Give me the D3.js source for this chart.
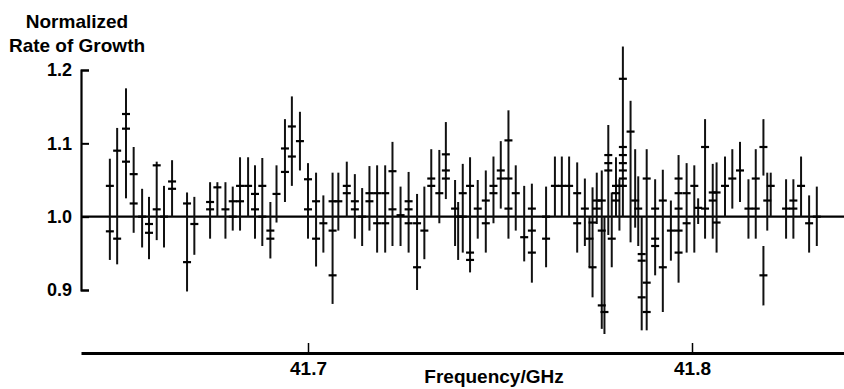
<!DOCTYPE html>
<html><head><meta charset="utf-8">
<script src="https://cdn.jsdelivr.net/npm/d3@7"></script>
<style>body{margin:0;background:#fff}svg{display:block}</style>
</head><body>
<svg id="c" width="844" height="389"></svg>
<script>
// Frequencies (GHz) of each measured point
const freq = [41.6484,41.6503,41.6526,41.6546,41.6568,41.6586,41.6606,41.6625,41.6646,41.6685,41.6704,
41.6745,41.6764,41.6785,41.6804,41.6823,41.6844,41.6862,41.6881,41.6902,41.6918,41.6940,41.6958,41.6979,
41.7000,41.7021,41.7040,41.7064,41.7079,41.7101,41.7122,41.7141,41.7160,41.7180,41.7201,41.7220,41.7241,
41.7262,41.7284,41.7303,41.7321,41.7342,41.7359,41.7383,41.7391,41.7403,41.7422,41.7442,41.7463,41.7483,
41.7502,41.7522,41.7541,41.7563,41.7583,41.7620,41.7643,41.7661,41.7680,41.7701,41.7721,41.7733,41.7741,
41.7752,41.7765,41.7772,41.7782,41.7791,41.7802,41.7811,41.7820,41.7840,41.7852,41.7860,41.7869,41.7882,
41.7904,41.7924,41.7945,41.7965,41.7986,41.8006,41.8016,41.8034,41.8054,41.8064,41.8086,41.8105,41.8125,
41.8147,41.8166,41.8186,41.8186,41.8196,41.8205,41.8245,41.8264,41.8284,41.8305,41.8325];
// Lower end of each error bar
const errLow = [0.941,0.935,1.025,0.978,0.958,0.942,0.968,0.958,1.000,0.898,0.948,
0.970,1.000,0.970,0.981,0.981,1.000,0.970,0.960,0.943,0.992,1.020,1.042,1.063,
0.970,0.932,0.951,0.881,0.981,1.000,0.970,0.960,0.981,0.951,0.951,0.960,0.960,
0.951,0.900,0.942,1.001,0.991,1.024,0.960,0.941,0.951,0.924,0.970,0.951,0.991,
1.011,0.970,0.981,0.939,0.910,0.931,1.000,1.000,1.000,0.951,0.960,0.931,0.890,
0.990,0.847,0.840,0.975,0.931,1.000,0.981,1.000,0.965,0.985,0.960,0.845,0.845,
0.920,0.870,0.940,0.910,0.951,0.951,0.990,0.970,0.970,0.951,1.000,1.011,1.020,
0.970,0.970,1.056,0.879,0.981,1.000,0.970,0.970,1.000,0.951,0.960];
// Upper end of each error bar
const errHigh = [1.079,1.121,1.175,1.095,1.038,1.027,1.075,1.042,1.077,1.033,1.027,
1.047,1.047,1.047,1.041,1.081,1.081,1.070,1.080,1.020,1.070,1.133,1.164,1.143,
1.073,1.060,1.029,1.060,1.060,1.075,1.058,1.039,1.069,1.070,1.070,1.102,1.041,
1.061,1.031,1.041,1.092,1.091,1.129,1.050,1.020,1.072,1.081,1.050,1.063,1.082,
1.103,1.145,1.070,1.042,1.045,1.041,1.082,1.082,1.082,1.074,1.052,1.000,1.040,
1.060,1.063,1.000,1.125,1.033,1.081,1.051,1.232,1.158,1.092,1.055,1.000,1.092,
1.051,1.064,1.022,1.084,1.073,1.070,1.025,1.133,1.072,1.074,1.082,1.092,1.102,
1.051,1.092,1.133,0.960,1.060,1.060,1.051,1.051,1.082,1.029,1.041];
// Normalized rate of growth readings marked on each bar
const marks = [[1.042,0.980],[1.090,0.970],[1.140,1.120,1.075],[1.058,1.018],[1.000],[0.990,0.978],[1.070,1.010],[1.000],[1.048,1.038],[1.018,0.938],[0.990],
[1.020,1.010],[1.040],[1.010],[1.021,1.000],[1.042,1.021],[1.042],[1.031,1.010],[1.042,1.000],[0.981,0.970],[1.031],[1.093,1.061],[1.123,1.082],[1.103],
[1.051,1.010],[1.021,0.970],[0.991],[1.021,0.981,0.920],[1.021],[1.042,1.032],[1.021,1.010],[1.000],[1.032,1.021],[1.032,0.991],[1.032,0.991],[1.062,1.010],[1.002],
[1.021,1.010,0.991],[0.991,0.931],[0.981],[1.052,1.042],[1.032],[1.085,1.063,1.052],[1.011],[1.000],[1.032,1.000],[1.042,0.951,0.941],[1.011],[1.022,0.991],[1.042,1.032],
[1.063,1.052],[1.104,1.052,1.011],[1.032],[0.972],[1.011,0.981,0.951],[1.000,0.970],[1.042],[1.042],[1.042],[1.032,0.991],[1.011],[0.970],[0.992,0.931],
[1.022,1.011],[1.022,0.981,0.879],[0.870],[1.084,1.073,1.063],[0.970],[1.042,1.032,1.022],[1.042],[1.188,1.095,1.084,1.073,1.063,1.052,1.042],[1.116],[1.022],[1.011],[0.949,0.940,0.890],[1.052,0.910,0.870],
[1.011,0.970,0.960],[1.022,0.931],[0.981],[1.052,1.032,1.011,0.981,0.951],[1.032,0.991],[1.042],[1.012],[1.095,1.011],[1.033,1.022],[1.033,0.992],[1.042],[1.052],[1.063],
[1.011],[1.052,1.011],[1.095],[0.920],[1.022],[1.042],[1.011],[1.022,1.011],[1.042],[0.991],[1.000]];
const yTicks = [0.9, 1.0, 1.1, 1.2];
const xTicks = [41.7, 41.8];
const xDomain = [41.640885, 41.839583];
const yDomain = [0.9, 1.2];
const baseline = 1.0;

const svg = d3.select("#c");
const font = "'Liberation Sans', Arial, Helvetica, sans-serif";
const x = d3.scaleLinear().domain(xDomain).range([81, 844]);
const y = d3.scaleLinear().domain(yDomain).range([290, 70]);

// Y axis (bracket with inward ticks)
const ya = svg.append("g").attr("transform", "translate(81,0)")
  .call(d3.axisLeft(y).tickValues(yTicks).tickFormat(d3.format(".1f"))
        .tickSize(-8).tickSizeOuter(-8).tickPadding(9));
ya.select(".domain").attr("stroke", "#000").attr("stroke-width", 2.2).attr("fill", "none");
ya.selectAll(".tick line").attr("stroke", "#000").attr("stroke-width", 2);
ya.selectAll(".tick text").attr("font-family", font).attr("font-size", 18).attr("font-weight", "bold").attr("fill", "#000");

// X axis (thick bottom line, ticks upward)
const xa = svg.append("g").attr("transform", "translate(0,353)")
  .call(d3.axisBottom(x).tickValues(xTicks).tickFormat(d3.format(".1f"))
        .tickSize(-10).tickSizeOuter(0).tickPadding(9));
xa.select(".domain").attr("stroke", "#000").attr("stroke-width", 3.2);
xa.selectAll(".tick line").attr("stroke", "#000").attr("stroke-width", 1.5);
xa.selectAll(".tick text").attr("font-family", font).attr("font-size", 19).attr("font-weight", "bold").attr("fill", "#000").attr("dy", "0.71em");

// Reference line at 1.0
svg.append("line").attr("x1", x(xDomain[0])).attr("x2", x(xDomain[1]))
  .attr("y1", y(baseline)).attr("y2", y(baseline))
  .attr("stroke", "#000").attr("stroke-width", 2.4);

// Error bars
const pts = freq.map((f, i) => ({f, lo: errLow[i], hi: errHigh[i], m: marks[i]}));
svg.append("g").selectAll("line").data(pts).join("line")
  .attr("x1", d => x(d.f)).attr("x2", d => x(d.f))
  .attr("y1", d => y(d.hi)).attr("y2", d => y(d.lo))
  .attr("stroke", "#111").attr("stroke-width", 2);

// Markers
const mk = pts.flatMap(d => d.m.map(v => ({f: d.f, v})));
svg.append("g").selectAll("line").data(mk).join("line")
  .attr("x1", d => x(d.f) - 4).attr("x2", d => x(d.f) + 4)
  .attr("y1", d => y(d.v)).attr("y2", d => y(d.v))
  .attr("stroke", "#000").attr("stroke-width", 2.2);

// Titles
const t = svg.append("g").attr("font-family", font).attr("font-size", 19).attr("font-weight", "bold").attr("text-anchor", "middle").attr("fill", "#000");
t.append("text").attr("x", 77).attr("y", 28).text("Normalized");
t.append("text").attr("x", 77).attr("y", 52).text("Rate of Growth");
svg.append("text").attr("x", 494).attr("y", 383).attr("text-anchor", "middle")
  .attr("font-family", font).attr("font-size", 19).attr("font-weight", "bold").text("Frequency/GHz");
</script>
</body></html>
